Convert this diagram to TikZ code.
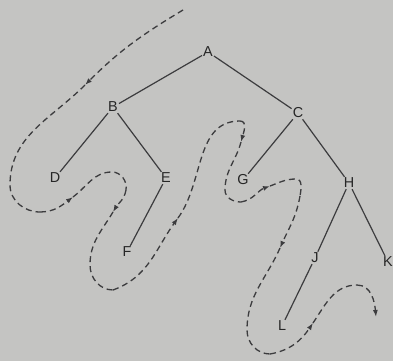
\documentclass[tikz,border=0pt]{standalone}
\usepackage{fontspec}
\setsansfont{Liberation Sans}
\usetikzlibrary{arrows.meta}

\definecolor{paper}{RGB}{196,196,194}
\definecolor{ink}{RGB}{60,60,62}

\begin{document}
\begin{tikzpicture}[
    x=1pt, y=-1pt,
    font=\sffamily\Large,
    >=Latex,
    vertex/.style = {text=black!85, inner sep=1pt},
    edge/.style = {ink, line width=1.2pt},
    tour/.style = {ink, line width=1.3pt, dash pattern=on 6pt off 4pt},
    tourtip/.style = {tour, -{Latex[length=7pt,width=5pt]}},
]

% Hintergrund (Foto)
\fill[paper] (0,0) rectangle (393,361);
\useasboundingbox (0,0) rectangle (393,361);

% Knoten
\node[vertex] (A) at (208,52) {A};
\node[vertex] (B) at (113,107) {B};
\node[vertex] (C) at (298,113) {C};
\node[vertex] (D) at (55,178) {D};
\node[vertex] (E) at (166,178) {E};
\node[vertex] (F) at (127,252) {F};
\node[vertex] (G) at (243,180) {G};
\node[vertex] (H) at (349,183) {H};
\node[vertex] (J) at (315,258) {J};
\node[vertex] (K) at (388,262) {K};
\node[vertex] (L) at (282,326) {L};

% Kanten
\draw[edge] (A) -- (B);
\draw[edge] (A) -- (C);
\draw[edge] (B) -- (D);
\draw[edge] (B) -- (E);
\draw[edge] (E) -- (F);
\draw[edge] (C) -- (G);
\draw[edge] (C) -- (H);
\draw[edge] (H) -- (J);
\draw[edge] (H) -- (K);
\draw[edge] (J) -- (L);

% Wegpunkte des Umlaufs
\coordinate (w0) at (183,10);
\coordinate (w1) at (85,85);
\coordinate (w2) at (10,185);
\coordinate (w3) at (40,212);
\coordinate (w4) at (73,197);
\coordinate (w5) at (112,172);
\coordinate (w6) at (126,190);
\coordinate (w7) at (113,212);
\coordinate (w8) at (90,265);
\coordinate (w9) at (113,290);
\coordinate (w10) at (178,218);
\coordinate (w11) at (240,121);
\coordinate (w12) at (241,142);
\coordinate (w13) at (225,190);
\coordinate (w14) at (241,202);
\coordinate (w15) at (270,186);
\coordinate (w16) at (296,179);
\coordinate (w17) at (300,196);
\coordinate (w18) at (280,248);
\coordinate (w19) at (247,330);
\coordinate (w20) at (270,354);
\coordinate (w21) at (313,323);
\coordinate (w22) at (357,285);
\coordinate (w23) at (376,317);

% Umlauf (gestrichelt)
\draw[tourtip] (w0) to[out=211,in=45] (w1);
\draw[tour] (w1) to[out=225,in=90] (w2) to[out=270,in=180] (w3);
\draw[tourtip] (w3) to[out=0,in=217] (w4);
\draw[tour] (w4) to[out=37,in=180] (w5) to[out=0,in=80] (w6);
\draw[tourtip] (w6) to[out=260,in=59] (w7);
\draw[tour] (w7) to[out=239,in=90] (w8) to[out=270,in=180] (w9);
\draw[tourtip] (w9) to[out=20,in=234] (w10);
\draw[tour] (w10) to[out=54,in=180] (w11);
\draw[tourtip] (w11) to[out=0,in=75] (w12);
\draw[tour] (w12) to[out=255,in=90] (w13) to[out=270,in=180] (w14);
\draw[tourtip] (w14) to[out=10,in=200] (w15);
\draw[tour] (w15) to[out=20,in=180] (w16) to[out=0,in=80] (w17);
\draw[tourtip] (w17) to[out=260,in=66] (w18);
\draw[tour] (w18) to[out=246,in=90] (w19) to[out=270,in=180] (w20);
\draw[tourtip] (w20) to[out=10,in=236] (w21);
\draw[tour] (w21) to[out=56,in=180] (w22);
\draw[tourtip] (w22) to[out=0,in=95] (w23);

\end{tikzpicture}
\end{document}
